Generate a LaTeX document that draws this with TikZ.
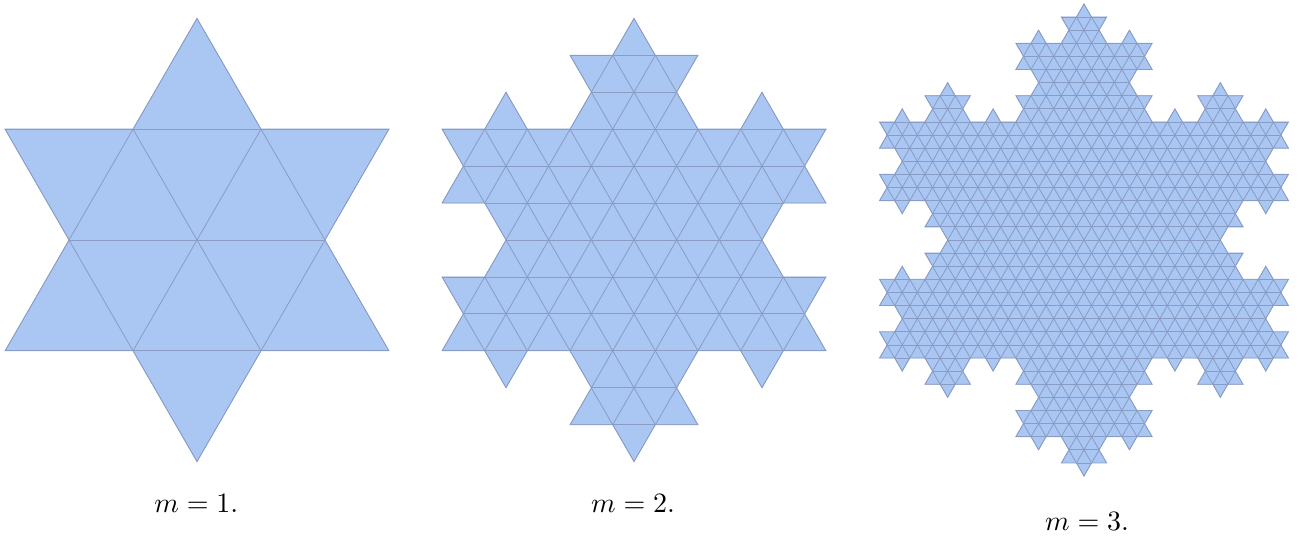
\documentclass[tikz,border=0pt]{standalone}
\definecolor{flakefill}{RGB}{170,198,242}
\definecolor{flakeline}{RGB}{136,156,196}
\tikzset{
  gridline/.style={draw=flakeline, line width=0.8pt},
  outline/.style={draw=flakeline, line width=0.8pt, line join=miter},
  lbl/.style={scale=2.8, inner sep=0pt}
}
% recursive Koch edge: #1 level, (#2,#3) -> (#4,#5); appends "-- point" to \kochpath
\newcommand\kochseg[5]{%
  \ifnum#1=0
    \xdef\kochpath{\kochpath -- (#4,#5)}%
  \else
    \begingroup
    \pgfmathsetmacro\kdx{(#4-#2)/3}%
    \pgfmathsetmacro\kdy{(#5-#3)/3}%
    \pgfmathsetmacro\kax{#2+\kdx}%
    \pgfmathsetmacro\kay{#3+\kdy}%
    \pgfmathsetmacro\kbx{#2+2*\kdx}%
    \pgfmathsetmacro\kby{#3+2*\kdy}%
    \pgfmathsetmacro\kcx{\kax+0.5*\kdx+0.8660254*\kdy}%
    \pgfmathsetmacro\kcy{\kay-0.8660254*\kdx+0.5*\kdy}%
    \pgfmathtruncatemacro\klv{#1-1}%
    \edef\knext{\noexpand\kochseg{\klv}{#2}{#3}{\kax}{\kay}%
      \noexpand\kochseg{\klv}{\kax}{\kay}{\kcx}{\kcy}%
      \noexpand\kochseg{\klv}{\kcx}{\kcy}{\kbx}{\kby}%
      \noexpand\kochseg{\klv}{\kbx}{\kby}{#4}{#5}}%
    \knext
    \endgroup
  \fi}
% #1 x0, #2 y0 (bottom-left corner of initial triangle), #3 side L, #4 order, #5 grid step
\newcommand\kochflake[5]{%
  \pgfmathsetmacro\fxa{#1+#3}%
  \pgfmathsetmacro\fxb{#1+#3/2}%
  \pgfmathsetmacro\fyb{#2+#3*0.8660254}%
  \xdef\kochpath{(#1,#2)}%
  \kochseg{#4}{#1}{#2}{\fxa}{#2}%
  \kochseg{#4}{\fxa}{#2}{\fxb}{\fyb}%
  \kochseg{#4}{\fxb}{\fyb}{#1}{#2}%
  \edef\kfill{\noexpand\fill[flakefill] \kochpath -- cycle;}%
  \edef\kclip{\noexpand\clip \kochpath -- cycle;}%
  \edef\kdraw{\noexpand\draw[outline] \kochpath -- cycle;}%
  \kfill
  \begin{scope}
    \kclip
    \foreach \k in {-12,...,32} {
      \draw[gridline] ({#1-100}, {#2+\k*#5*0.8660254}) -- ++(700,0);
    }
    \foreach \j in {-30,...,60} {
      \draw[gridline] ({#1+\j*#5}, #2) ++(240:500) -- ++(60:1000);
      \draw[gridline] ({#1+\j*#5}, #2) ++(300:500) -- ++(120:1000);
    }
  \end{scope}
  \kdraw
}
\begin{document}
\begin{tikzpicture}[x=1pt, y=1pt]
  \useasboundingbox (0,0) rectangle (1298,538);
  \kochflake{5}{187.15}{384}{1}{128}
  \kochflake{442}{187.15}{384}{2}{42.6667}
  \kochflake{879.5}{179.95}{409}{3}{15.1481}
  \node[lbl] (l1) at (196.3,35) {$m=1.$};
  \node[lbl] (l2) at (633,35) {$m=2.$};
  \node[lbl] (l3) at (1087,17) {$m=3.$};
\end{tikzpicture}
\end{document}
